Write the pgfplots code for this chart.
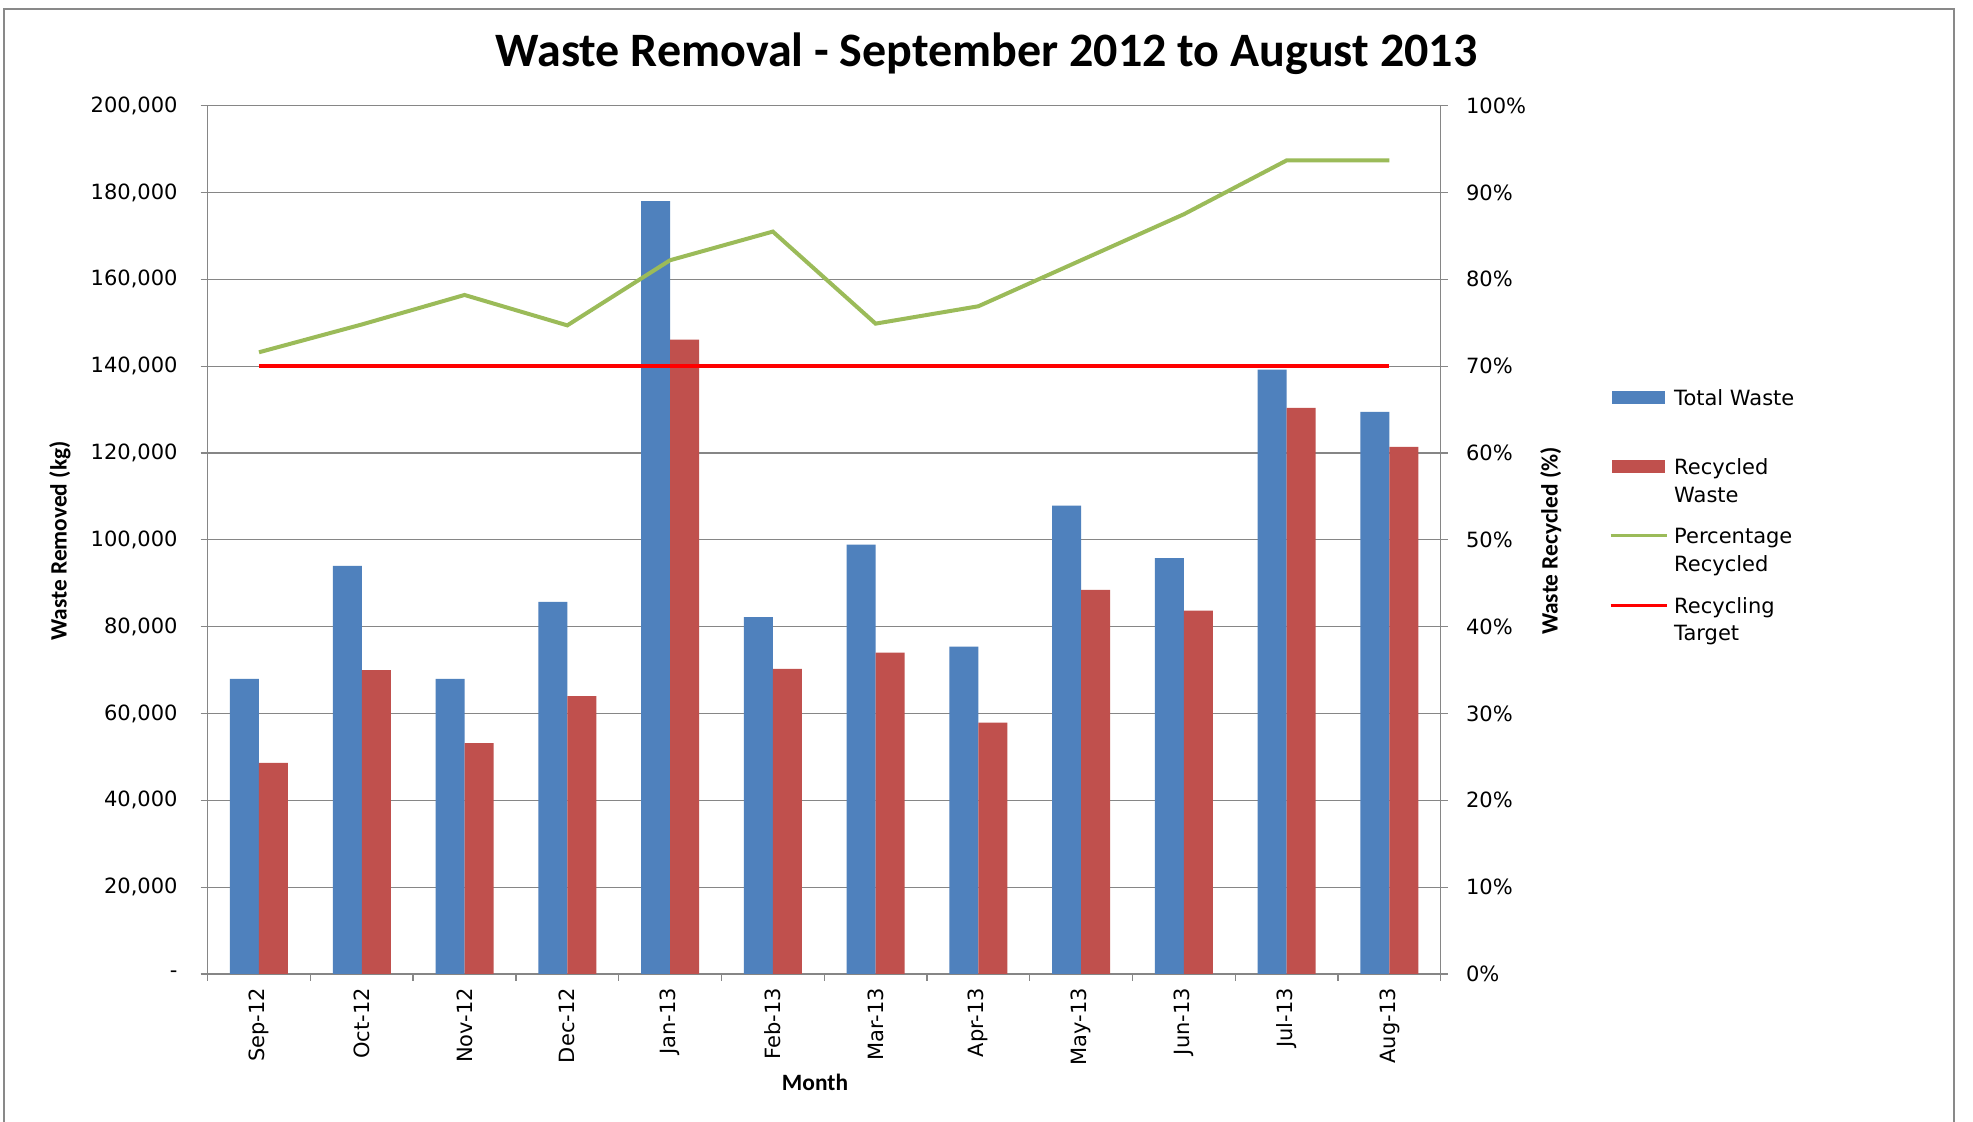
\documentclass[border=0pt]{standalone}
\usepackage{fontspec}
\setmainfont{DejaVu Sans}
\newfontfamily\calibri{Carlito}
\usepackage{pgfplots}
\pgfplotsset{compat=1.18}
\usepackage{pgfplotstable}
\definecolor{xblue}{HTML}{4F81BD}
\definecolor{xred}{HTML}{C0504D}
\definecolor{xgreen}{HTML}{9BBB59}
\definecolor{xtarget}{HTML}{FF0000}
\definecolor{gridgray}{HTML}{868686}
\definecolor{bordergray}{HTML}{898989}

\pgfplotstableread{
idx total recycled pct target
0 68000 48600 71.6 70
1 94000 70000 74.8 70
2 68000 53200 78.2 70
3 85700 64000 74.7 70
4 178000 146100 82.2 70
5 82200 70300 85.5 70
6 98900 74000 74.9 70
7 75400 57900 76.9 70
8 107900 88500 82.2 70
9 95800 83700 87.5 70
10 139200 130400 93.7 70
11 129500 121400 93.7 70
}\datatable

\begin{document}
\begin{tikzpicture}
\path[use as bounding box, fill=white] (0pt,0pt) rectangle (986.5pt,561pt);
\draw[bordergray, line width=1.3pt] (2pt,-2pt) -- (2pt,556.5pt) -- (977pt,556.5pt) -- (977pt,-2pt);

\begin{axis}[
  at={(103.8pt,74pt)}, anchor=south west,
  width=616.6pt, height=434.15pt, scale only axis,
  xmin=-0.5, xmax=11.5, ymin=0, ymax=200000,
  ybar=0pt, bar width=14.5pt,
  axis x line*=bottom, axis y line*=left,
  axis line style={-, draw=gridgray, line width=0.65pt},
  ytick={0,20000,...,200000},
  yticklabels={-,{20,000},{40,000},{60,000},{80,000},{100,000},{120,000},{140,000},{160,000},{180,000},{200,000}},
  scaled y ticks=false,
  ymajorgrids, grid style={draw=gridgray, line width=0.65pt},
  tick align=outside, major tick length=3.5pt, minor tick length=3.5pt,
  tick style={draw=gridgray, line width=0.65pt},
  xtick={0,...,11},
  xticklabels={Sep-12,Oct-12,Nov-12,Dec-12,Jan-13,Feb-13,Mar-13,Apr-13,May-13,Jun-13,Jul-13,Aug-13},
  major x tick style={draw=none},
  minor xtick={-0.5,0.5,...,11.5},
  ticklabel style={font=\fontsize{10.5}{12}\selectfont},
  xticklabel style={rotate=90, anchor=east},
  yticklabel style={xshift=-8pt},
]
\addplot[fill=xblue, draw=none] table[x=idx, y=total]{\datatable};
\addplot[fill=xred, draw=none] table[x=idx, y=recycled]{\datatable};
\end{axis}

\begin{axis}[
  at={(103.8pt,74pt)}, anchor=south west,
  width=616.6pt, height=434.15pt, scale only axis,
  xmin=-0.5, xmax=11.5, ymin=0, ymax=100,
  axis x line=none, axis y line*=right,
  axis line style={-, draw=gridgray, line width=0.65pt},
  ytick={0,10,...,100},
  yticklabels={0\%,10\%,20\%,30\%,40\%,50\%,60\%,70\%,80\%,90\%,100\%},
  tick align=outside, major tick length=3.5pt,
  tick style={draw=gridgray, line width=0.65pt},
  ticklabel style={font=\fontsize{10.5}{12}\selectfont},
  yticklabel style={xshift=5.6pt},
  legend style={at={(1.1364,0.6769)}, anchor=north west, draw=none, fill=none,
    inner sep=0pt, outer sep=0pt, row sep=23.5pt, column sep=3pt,
    nodes={inner sep=0pt}, font=\fontsize{10.5}{13.75}\selectfont},
  legend cell align=left,
]
\addlegendimage{legend image code/.code={\fill[xblue] (0pt,-3.1pt) rectangle (26pt,3.1pt);}}
\addlegendentry{\parbox[t]{3cm}{\strut Total Waste\\\strut}}
\addlegendimage{legend image code/.code={\fill[xred] (0pt,-3.1pt) rectangle (26pt,3.1pt);}}
\addlegendentry{\parbox[t]{3cm}{\strut Recycled\\\strut Waste}}
\addlegendimage{legend image code/.code={\draw[xgreen, line width=1.6pt] (-1pt,0pt) -- (27pt,0pt);}}
\addlegendentry{\parbox[t]{3cm}{\strut Percentage\\\strut Recycled}}
\addlegendimage{legend image code/.code={\draw[xtarget, line width=1.6pt] (-1pt,0pt) -- (27pt,0pt);}}
\addlegendentry{\parbox[t]{3cm}{\strut Recycling\\\strut Target}}
\addplot[forget plot, xgreen, line width=2pt] table[x=idx, y=pct]{\datatable};
\addplot[forget plot, xtarget, line width=1.9pt] table[x=idx, y=target]{\datatable};
\end{axis}

\node[anchor=base, font=\calibri\bfseries\fontsize{24}{28}\selectfont] at (493.25pt,527.65pt) {Waste Removal - September 2012 to August 2013};
\node[anchor=base, rotate=90, font=\calibri\bfseries\fontsize{11.7}{14}\selectfont] at (33.25pt,290.5pt) {Waste Removed (kg)};
\node[anchor=base, rotate=90, font=\calibri\bfseries\fontsize{11.7}{14}\selectfont] at (778.75pt,290.5pt) {Waste Recycled (\%)};
\node[anchor=base, font=\calibri\bfseries\fontsize{11.7}{14}\selectfont] at (407.5pt,15.5pt) {Month};
\end{tikzpicture}
\end{document}
